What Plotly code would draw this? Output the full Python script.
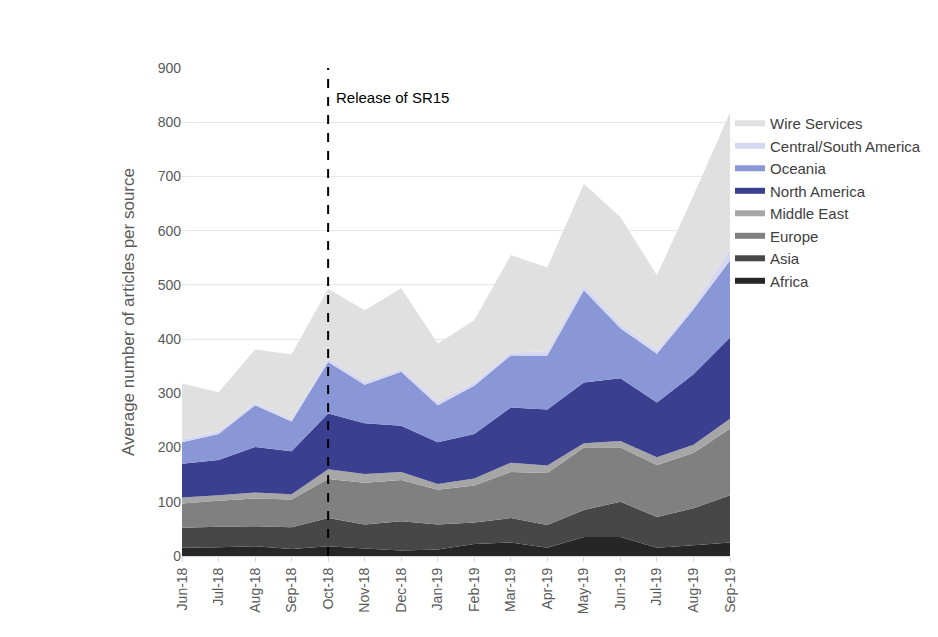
import plotly.graph_objects as go

months = ["Jun-18","Jul-18","Aug-18","Sep-18","Oct-18","Nov-18","Dec-18","Jan-19",
          "Feb-19","Mar-19","Apr-19","May-19","Jun-19","Jul-19","Aug-19","Sep-19"]
africa = [15,16,18,13,18,14,10,12,22,25,15,35,35,15,20,25]
asia = [37,38,37,40,52,44,54,46,40,45,42,50,65,57,68,87]
europe = [45,48,51,51,72,77,76,64,68,85,96,115,100,96,102,123]
middle_east = [11,10,11,10,18,16,15,11,13,17,14,8,12,14,15,18]
north_america = [62,65,84,79,103,94,85,77,82,102,103,112,116,101,130,150]
oceania = [40,48,77,55,95,71,100,68,89,96,100,170,92,90,120,142]
central_south_america = [5,5,4,4,6,6,5,7,6,5,8,10,8,7,7,20]
wire_services = [103,72,99,120,129,131,149,107,115,180,154,186,197,138,203,253]

series = [
    ("Africa", africa, "#262626"),
    ("Asia", asia, "#474747"),
    ("Europe", europe, "#808080"),
    ("Middle East", middle_east, "#a6a6a6"),
    ("North America", north_america, "#3a3f8f"),
    ("Oceania", oceania, "#8a97d6"),
    ("Central/South America", central_south_america, "#d5d8f0"),
    ("Wire Services", wire_services, "#e0e0e0"),
]

fig = go.Figure()
for name, vals, col in series:
    fig.add_trace(go.Scatter(x=months, y=vals, name=name, stackgroup="one",
                             mode="none", fillcolor=col, line=dict(width=0)))

fig.add_shape(type="line", x0="Oct-18", x1="Oct-18", y0=0, y1=900, xref="x", yref="y",
              line=dict(color="black", width=2, dash="dash"))
fig.add_annotation(x="Oct-18", y=845, text="Release of SR15", showarrow=False,
                   xanchor="left", xshift=6, font=dict(size=15, color="black"))

fig.update_layout(
    width=938, height=637, plot_bgcolor="white", paper_bgcolor="white",
    margin=dict(l=174, r=216, t=60, b=89),
    font=dict(family="Liberation Sans, Arial", color="#595959", size=14),
    legend=dict(x=1.0, y=0.92, yanchor="top", traceorder="reversed",
                font=dict(size=15, color="#404040"), itemsizing="constant",
                tracegroupgap=0, itemwidth=30),
    xaxis=dict(range=[0, 15], tickangle=-90, showgrid=False, ticks="outside",
               tickcolor="#d9d9d9", ticklen=5, showline=True, linecolor="#d9d9d9",
               tickfont=dict(size=14, color="#595959")),
    yaxis=dict(range=[0, 900], dtick=100, gridcolor="#e6e6e6",
               title=dict(text="Average number of articles per source", font=dict(size=17, color="#595959"), standoff=18),
               tickfont=dict(size=14, color="#595959")),
    showlegend=True,
)
fig.write_html("out.html")
